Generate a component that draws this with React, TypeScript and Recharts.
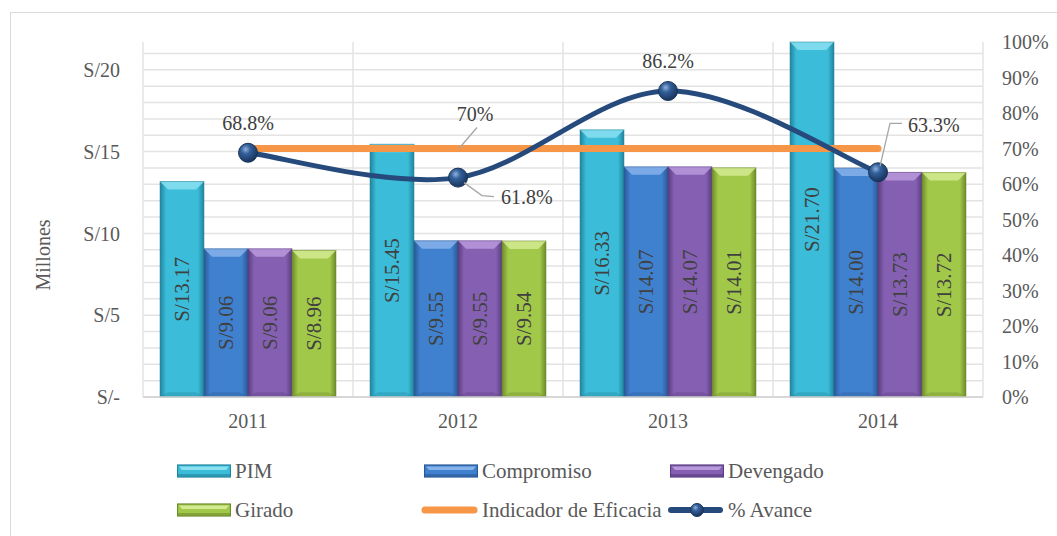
import React from "react";
import { ComposedChart, Bar, Line, XAxis, YAxis, CartesianGrid, LabelList } from "recharts";

const years = ["2011", "2012", "2013", "2014"];
const pim = [13.17, 15.45, 16.33, 21.7];
const compromiso = [9.06, 9.55, 14.07, 14.0];
const devengado = [9.06, 9.55, 14.07, 13.73];
const girado = [8.96, 9.54, 14.01, 13.72];
const eficacia = [0.7, 0.7, 0.7, 0.7];
const avance = [0.688, 0.618, 0.862, 0.633];

const moneyTicks = [0, 5, 10, 15, 20];
const minorTicks = [0, 1, 2, 3, 4, 5, 6, 7, 8, 9, 10, 11, 12, 13, 14, 15, 16, 17, 18, 19, 20, 21];
const pctTicks = [0, 0.1, 0.2, 0.3, 0.4, 0.5, 0.6, 0.7, 0.8, 0.9, 1];

const data = years.map((year, i) => ({
  year,
  pim: pim[i],
  compromiso: compromiso[i],
  devengado: devengado[i],
  girado: girado[i],
  eficacia: eficacia[i],
  avance: avance[i],
}));

const FONT = '"Liberation Serif", "Times New Roman", serif';
const TEXT = "#595959";
const LABEL = "#404040";
const ORANGE = "#f79646";
const NAVY = "#254a7b";

const PALETTE: Record<string, { base: string; light: string; dark: string }> = {
  pim: { base: "#3bbcd9", light: "#8be0f0", dark: "#21849c" },
  compromiso: { base: "#3f80cf", light: "#86b2ea", dark: "#2a5894" },
  devengado: { base: "#8560b2", light: "#b899dc", dark: "#5a3c80" },
  girado: { base: "#a2c84a", light: "#d3ea92", dark: "#6d8a2b" },
};

// Excel-style smoothed line (Catmull-Rom through the points)
const excelSmooth = (context: any) => {
  let pts: number[][] = [];
  return {
    areaStart() {},
    areaEnd() {},
    lineStart() {
      pts = [];
    },
    point(x: number, y: number) {
      pts.push([+x, +y]);
    },
    lineEnd() {
      if (!pts.length) return;
      context.moveTo(pts[0][0], pts[0][1]);
      for (let i = 0; i < pts.length - 1; i++) {
        const p0 = pts[Math.max(i - 1, 0)];
        const p1 = pts[i];
        const p2 = pts[i + 1];
        const p3 = pts[Math.min(i + 2, pts.length - 1)];
        context.bezierCurveTo(
          p1[0] + (p2[0] - p0[0]) / 6,
          p1[1] + (p2[1] - p0[1]) / 6,
          p2[0] - (p3[0] - p1[0]) / 6,
          p2[1] - (p3[1] - p1[1]) / 6,
          p2[0],
          p2[1]
        );
      }
    },
  };
};

const bevelShape = (key: string) => (props: any) => {
  const { x, y, width, height } = props;
  if (!height || height <= 0) return null;
  const c = PALETTE[key];
  const b = Math.min(8, height / 2);
  return (
    <g>
      <rect x={x} y={y} width={width} height={height} fill={`url(#grad-${key})`} />
      <polygon
        points={`${x},${y} ${x + width},${y} ${x + width - b},${y + b} ${x + b},${y + b}`}
        fill={c.light}
        opacity={0.85}
      />
      <polygon
        points={`${x},${y + height} ${x + width},${y + height} ${x + width - b},${y + height - b * 0.6} ${x + b},${y + height - b * 0.6}`}
        fill={c.dark}
        opacity={0.35}
      />
      <rect x={x} y={y} width={width} height={height} fill="none" stroke={c.dark} strokeOpacity={0.5} strokeWidth={1} />
    </g>
  );
};

const barLabel = (props: any) => {
  const { x, y, width, height, value } = props;
  const cx = x + width / 2;
  const cy = y + height / 2;
  return (
    <text
      x={cx}
      y={cy}
      transform={`rotate(-90 ${cx} ${cy})`}
      textAnchor="middle"
      dominantBaseline="central"
      fontFamily={FONT}
      fontSize={21}
      fill={LABEL}
    >
      {`S/${Number(value).toFixed(2)}`}
    </text>
  );
};

const pctText = (v: number) => `${(v * 100).toFixed(1)}%`;

const avanceLabel = (props: any) => {
  const { x, y, index, value } = props;
  const style = { fontFamily: FONT, fontSize: 20, fill: LABEL };
  if (index === 1) {
    return (
      <g>
        <polyline points={`${x + 6},${y + 5} ${x + 24},${y + 18} ${x + 36},${y + 19}`} fill="none" stroke="#a6a6a6" strokeWidth={1.3} />
        <text x={x + 43} y={y + 19} dominantBaseline="central" {...style}>{pctText(value)}</text>
      </g>
    );
  }
  if (index === 3) {
    return (
      <g>
        <polyline points={`${x + 2},${y - 6} ${x + 12},${y - 49} ${x + 24},${y - 49}`} fill="none" stroke="#a6a6a6" strokeWidth={1.3} />
        <text x={x + 30} y={y - 47} dominantBaseline="central" {...style}>{pctText(value)}</text>
      </g>
    );
  }
  return (
    <text x={x} y={y - 30} textAnchor="middle" dominantBaseline="central" {...style}>{pctText(value)}</text>
  );
};

const eficaciaLabel = (props: any) => {
  const { x, y, index, value } = props;
  if (index !== 1) return null;
  return (
    <g>
      <line x1={x + 1} y1={y} x2={x + 19} y2={y - 21} stroke="#a6a6a6" strokeWidth={1.3} />
      <text x={x + 17} y={y - 35} textAnchor="middle" dominantBaseline="central" fontFamily={FONT} fontSize={20} fill={LABEL}>
        {`${Math.round(value * 100)}%`}
      </text>
    </g>
  );
};

const sphereDot = (props: any) => {
  const { cx, cy, index } = props;
  return <circle key={`dot-${index}`} cx={cx} cy={cy} r={9.5} fill="url(#sphere)" stroke="#1b355a" strokeWidth={1} />;
};

const millonesLabel = () => (
  <text
    x={43}
    y={255}
    transform="rotate(-90 43 255)"
    textAnchor="middle"
    dominantBaseline="central"
    fontFamily={FONT}
    fontSize={20}
    fill={TEXT}
  >
    Millones
  </text>
);

const gridY = ({ yAxis, offset }: any) => {
  const s = yAxis && yAxis.scale;
  return minorTicks.map((t) => {
    if (typeof s === "function") return s(t);
    if (s && typeof s.map === "function") return s.map(t);
    return offset.top + offset.height * (1 - t / 21.7);
  });
};

const gridX = ({ offset }: any) => [0, 1, 2, 3, 4].map((i) => offset.left + (i * offset.width) / years.length);

function Swatch({ k }: { k: string }) {
  const c = PALETTE[k];
  return (
    <svg width={54} height={24} style={{ flexShrink: 0 }}>
      <rect x={0.5} y={6} width={53} height={12} fill={c.base} stroke={c.dark} strokeWidth={1.2} />
      <polygon points="2,7.5 52,7.5 49,11 5,11" fill={c.light} />
      <rect x={1} y={15} width={52} height={2.5} fill={c.dark} opacity={0.6} />
    </svg>
  );
}

function LegendItem({ icon, label }: { icon: React.ReactNode; label: string }) {
  return (
    <div style={{ display: "flex", alignItems: "center", height: 24, whiteSpace: "nowrap" }}>
      {icon}
      <span style={{ marginLeft: 4, fontFamily: FONT, fontSize: 21, color: TEXT }}>{label}</span>
    </div>
  );
}

export default function App() {
  return (
    <div style={{ position: "fixed", left: 0, top: 0, width: 1057, height: 536, overflow: "hidden", background: "#fff" }}>
      <div
        style={{
          position: "absolute",
          left: 10,
          top: 12,
          width: 1100,
          height: 600,
          border: "1px solid #d9d9d9",
        }}
      />
      <div style={{ position: "absolute", left: 0, top: 0 }}>
        <ComposedChart
          width={1057}
          height={536}
          data={data}
          margin={{ top: 42, right: 0, bottom: 109, left: 0 }}
          barGap={0}
        >
          <defs>
            {Object.keys(PALETTE).map((k) => (
              <linearGradient key={k} id={`grad-${k}`} x1="0" y1="0" x2="1" y2="0">
                <stop offset="0" stopColor={PALETTE[k].dark} />
                <stop offset="0.14" stopColor={PALETTE[k].base} />
                <stop offset="0.5" stopColor={PALETTE[k].base} />
                <stop offset="0.86" stopColor={PALETTE[k].base} />
                <stop offset="1" stopColor={PALETTE[k].dark} />
              </linearGradient>
            ))}
            <radialGradient id="sphere" cx="0.38" cy="0.32" r="0.7">
              <stop offset="0" stopColor="#8fb2de" />
              <stop offset="0.35" stopColor="#33609a" />
              <stop offset="1" stopColor="#17325a" />
            </radialGradient>
          </defs>
          <CartesianGrid
            yAxisId="left"
            stroke="#e3e3e3"
            strokeWidth={1.5}
            horizontalCoordinatesGenerator={gridY}
            verticalCoordinatesGenerator={gridX}
          />
          <XAxis
            dataKey="year"
            height={30}
            tickLine={false}
            tickMargin={11}
            axisLine={{ stroke: "#d0d0d0", strokeWidth: 1.5 }}
            tick={{ fontFamily: FONT, fontSize: 20, fill: TEXT }}
          />
          <YAxis
            yAxisId="left"
            width={143}
            domain={[0, 21.7]}
            ticks={moneyTicks}
            interval={0}
            axisLine={false}
            tickLine={false}
            tickMargin={17}
            tick={{ fontFamily: FONT, fontSize: 20, fill: TEXT }}
            tickFormatter={(v: number) => (v === 0 ? "S/-" : `S/${v}`)}
            label={millonesLabel}
          />
          <YAxis
            yAxisId="right"
            orientation="right"
            width={74}
            domain={[0, 1]}
            ticks={pctTicks}
            interval={0}
            axisLine={false}
            tickLine={false}
            tickMargin={13}
            tick={{ fontFamily: FONT, fontSize: 20, fill: TEXT }}
            tickFormatter={(v: number) => `${Math.round(v * 100)}%`}
          />
          <Bar yAxisId="left" dataKey="pim" barSize={44} shape={bevelShape("pim")} isAnimationActive={false}>
            <LabelList dataKey="pim" content={barLabel} />
          </Bar>
          <Bar yAxisId="left" dataKey="compromiso" barSize={44} shape={bevelShape("compromiso")} isAnimationActive={false}>
            <LabelList dataKey="compromiso" content={barLabel} />
          </Bar>
          <Bar yAxisId="left" dataKey="devengado" barSize={44} shape={bevelShape("devengado")} isAnimationActive={false}>
            <LabelList dataKey="devengado" content={barLabel} />
          </Bar>
          <Bar yAxisId="left" dataKey="girado" barSize={44} shape={bevelShape("girado")} isAnimationActive={false}>
            <LabelList dataKey="girado" content={barLabel} />
          </Bar>
          <Line
            yAxisId="right"
            dataKey="eficacia"
            type="linear"
            stroke={ORANGE}
            strokeWidth={7}
            strokeLinecap="round"
            dot={false}
            activeDot={false}
            isAnimationActive={false}
          >
            <LabelList dataKey="eficacia" content={eficaciaLabel} />
          </Line>
          <Line
            yAxisId="right"
            dataKey="avance"
            type={excelSmooth as any}
            stroke={NAVY}
            strokeWidth={5}
            dot={sphereDot}
            activeDot={false}
            isAnimationActive={false}
          >
            <LabelList dataKey="avance" content={avanceLabel} />
          </Line>
        </ComposedChart>
      </div>
      <div
        style={{
          position: "absolute",
          left: 177,
          top: 459,
          display: "grid",
          gridTemplateColumns: "247px 246px 200px",
          rowGap: 15,
        }}
      >
        <LegendItem icon={<Swatch k="pim" />} label="PIM" />
        <LegendItem icon={<Swatch k="compromiso" />} label="Compromiso" />
        <LegendItem icon={<Swatch k="devengado" />} label="Devengado" />
        <LegendItem icon={<Swatch k="girado" />} label="Girado" />
        <LegendItem
          icon={
            <svg width={57} height={24} style={{ marginLeft: -3, flexShrink: 0 }}>
              <line x1={4} y1={12} x2={53} y2={12} stroke={ORANGE} strokeWidth={7} strokeLinecap="round" />
            </svg>
          }
          label="Indicador de Eficacia"
        />
        <LegendItem
          icon={
            <svg width={57} height={24} style={{ marginLeft: -3, flexShrink: 0 }}>
              <line x1={4} y1={12} x2={53} y2={12} stroke={NAVY} strokeWidth={6} strokeLinecap="round" />
              <circle cx={30} cy={12} r={6.5} fill="url(#sphereLegend)" stroke="#1b355a" />
              <defs>
                <radialGradient id="sphereLegend" cx="0.38" cy="0.32" r="0.7">
                  <stop offset="0" stopColor="#8fb2de" />
                  <stop offset="0.35" stopColor="#33609a" />
                  <stop offset="1" stopColor="#17325a" />
                </radialGradient>
              </defs>
            </svg>
          }
          label="% Avance"
        />
      </div>
    </div>
  );
}
